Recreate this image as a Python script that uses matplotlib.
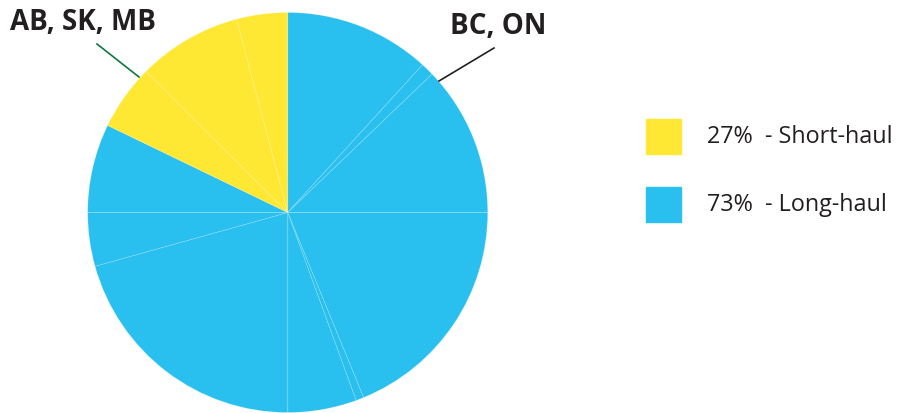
import matplotlib.pyplot as plt
from matplotlib.patches import Rectangle

# slice sizes (degrees, clockwise from 12 o'clock)
slice_sizes = [42.4, 3.8, 43.8, 67.7, 2.3, 20.0, 74.4, 15.6, 25.8, 19.1, 30.3, 14.8]
slice_kinds = ['long'] * 9 + ['short'] * 3

legend_labels = ['27%  - Short-haul', '73%  - Long-haul']
legend_kinds = ['short', 'long']

colors = {'short': '#FEE833', 'long': '#29C0EF'}

W, H = 900, 413
fig = plt.figure(figsize=(9, 4.13), dpi=100)
ax = fig.add_axes([0, 0, 1, 1])

ax.pie(slice_sizes, colors=[colors[k] for k in slice_kinds],
       startangle=90, counterclock=False,
       center=(287.7, H - 212.5), radius=200, frame=True,
       wedgeprops=dict(edgecolor=(1, 1, 1, 0.18), linewidth=0.6))
ax.set_xlim(0, W)
ax.set_ylim(0, H)
ax.set_aspect('equal')
ax.axis('off')

# region labels with leader lines
ax.text(83, H - 22, 'AB, SK, MB', ha='center', va='center',
        fontsize=20, fontweight='bold', family='Open Sans', color='#231f20')
ax.plot([97, 139], [H - 44, H - 77], color='#0b7a3e', lw=1.2)

ax.text(498, H - 26, 'BC, ON', ha='center', va='center',
        fontsize=20, fontweight='bold', family='Open Sans', color='#231f20')
ax.plot([494, 439], [H - 48, H - 81], color='#231f20', lw=1.2)

# legend
for i, (lab, kind) in enumerate(zip(legend_labels, legend_kinds)):
    top = 119 + i * 68
    ax.add_patch(Rectangle((646, H - top - 35), 35, 35, color=colors[kind]))
    ax.text(707, H - top - 18, lab, ha='left', va='center',
            fontsize=16.8, family='Open Sans', color='#231f20')

fig.savefig('out.png', dpi=100)
